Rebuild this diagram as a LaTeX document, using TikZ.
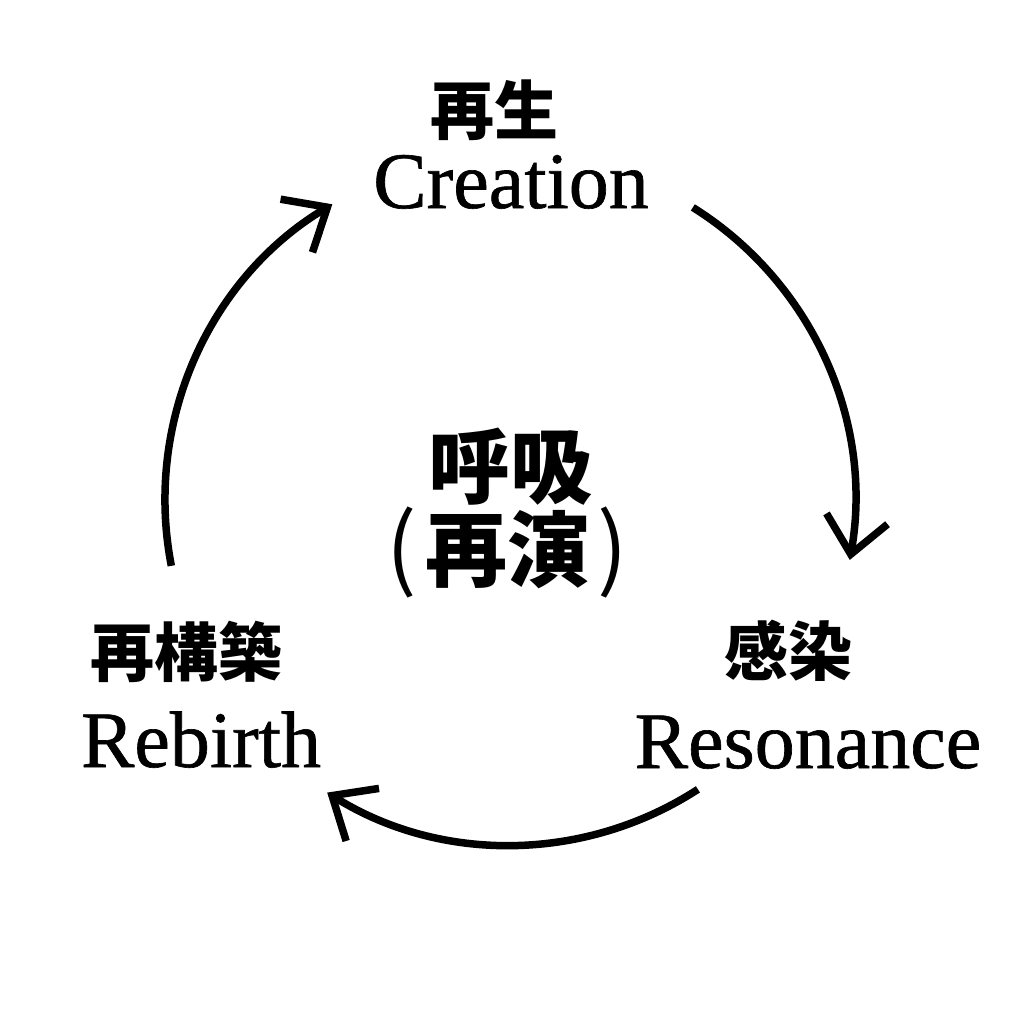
\documentclass[tikz,border=0pt]{standalone}
\usepackage{fontspec}
\setmainfont{Liberation Serif}
\newfontfamily\engfont{Liberation Serif}[FakeBold=0.8]
\newfontfamily\cjk{Noto Sans CJK JP}
\usetikzlibrary{arrows.meta,calc}
\tikzset{
  lbl/.style={inner sep=0pt, font=\cjk\bfseries\fontsize{64}{64}\selectfont},
  eng/.style={inner sep=0pt, anchor=base, font=\engfont\fontsize{80}{80}\selectfont},
  mid/.style={inner sep=0pt, font=\cjk\bfseries\fontsize{82}{82}\selectfont},
  cyc/.style={line width=7.5pt, -{Straight Barb[length=36pt,width=62pt]}}
}
\begin{document}
\begin{tikzpicture}[x=1pt,y=-1pt]
\useasboundingbox (0,0) rectangle (1022,1022);
\fill[white] (0,0) rectangle (1022,1022);
\coordinate (c) at (510,500);
% labels
\node[lbl] (sai) at (494,110) {再生};
\node[eng] (creation) at (511,208) {Creation};
\node[mid] (kokyu) at (510,467) {呼吸};
\node[mid] (saien) at (507,553) {{\mdseries\fontsize{90}{90}\selectfont(}\hspace{8pt}再演\hspace{8pt}{\mdseries\fontsize{90}{90}\selectfont)}};
\node[lbl] (saikouchiku) at (186,652) {再構築};
\node[eng] (rebirth) at (201,767) {Rebirth};
\node[lbl] (kansen) at (788,651) {感染};
\node[eng] (resonance) at (808,768) {Resonance};
% arrows on a circle
\coordinate (a1) at ($(c)+(-58:345)$);
\coordinate (a2) at ($(c)+(57:345)$);
\coordinate (a3) at ($(c)+(169:345)$);
\draw[cyc] (a1) arc[start angle=-58, end angle=10, radius=345];
\draw[cyc] (a2) arc[start angle=57, end angle=122, radius=345];
\draw[cyc] (a3) arc[start angle=169, end angle=239, radius=345];
\end{tikzpicture}
\end{document}
